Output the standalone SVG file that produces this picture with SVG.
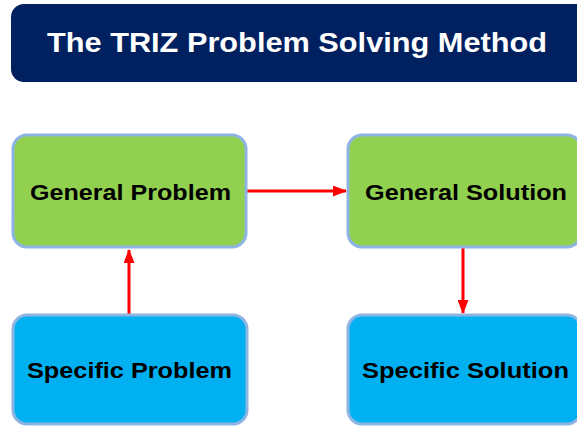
<svg xmlns="http://www.w3.org/2000/svg" width="577" height="429" viewBox="0 0 577 429">
<defs>
<style>
.box{stroke:#8EB4E3;stroke-width:3}
.g{fill:#92D050}
.b{fill:#00B0F0}
.t{font-family:"Liberation Sans",Arial,sans-serif;font-weight:bold;font-size:22.5px;fill:#000;text-anchor:middle}
.c{stroke:#FF0000;stroke-width:3;fill:none}
</style>
<marker id="ah" viewBox="0 0 14 11" refX="13" refY="5.5" markerWidth="14" markerHeight="11" markerUnits="userSpaceOnUse" orient="auto">
<path d="M0,0 L14,5.5 L0,11 z" fill="#FF0000"/>
</marker>
</defs>
<rect x="0" y="0" width="577" height="429" fill="#fff"/>
<g id="title">
<rect x="11" y="4" width="580" height="78" rx="13" fill="#002060"/>
<text x="297" y="52" font-family="Liberation Sans, Arial, sans-serif" font-weight="bold" font-size="28" fill="#fff" text-anchor="middle" textLength="500" lengthAdjust="spacingAndGlyphs">The TRIZ Problem Solving Method</text>
</g>
<g id="connectors">
<line class="c" x1="129" y1="315" x2="129" y2="250" marker-end="url(#ah)"/>
<line class="c" x1="247" y1="191" x2="346" y2="191" marker-end="url(#ah)"/>
<line class="c" x1="463" y1="247" x2="463" y2="313" marker-end="url(#ah)"/>
</g>
<g id="general-problem">
<rect class="box g" x="13" y="135" width="233" height="112" rx="14"/>
<text class="t" x="130.5" y="200" textLength="201" lengthAdjust="spacingAndGlyphs">General Problem</text>
</g>
<g id="general-solution">
<rect class="box g" x="348" y="135" width="233" height="112" rx="14"/>
<text class="t" x="466" y="200" textLength="202" lengthAdjust="spacingAndGlyphs">General Solution</text>
</g>
<g id="specific-problem">
<rect class="box b" x="13" y="315" width="234" height="109" rx="14"/>
<text class="t" x="129.5" y="378" textLength="205" lengthAdjust="spacingAndGlyphs">Specific Problem</text>
</g>
<g id="specific-solution">
<rect class="box b" x="348" y="315" width="233" height="109" rx="14"/>
<text class="t" x="465.5" y="378" textLength="207" lengthAdjust="spacingAndGlyphs">Specific Solution</text>
</g>
</svg>
